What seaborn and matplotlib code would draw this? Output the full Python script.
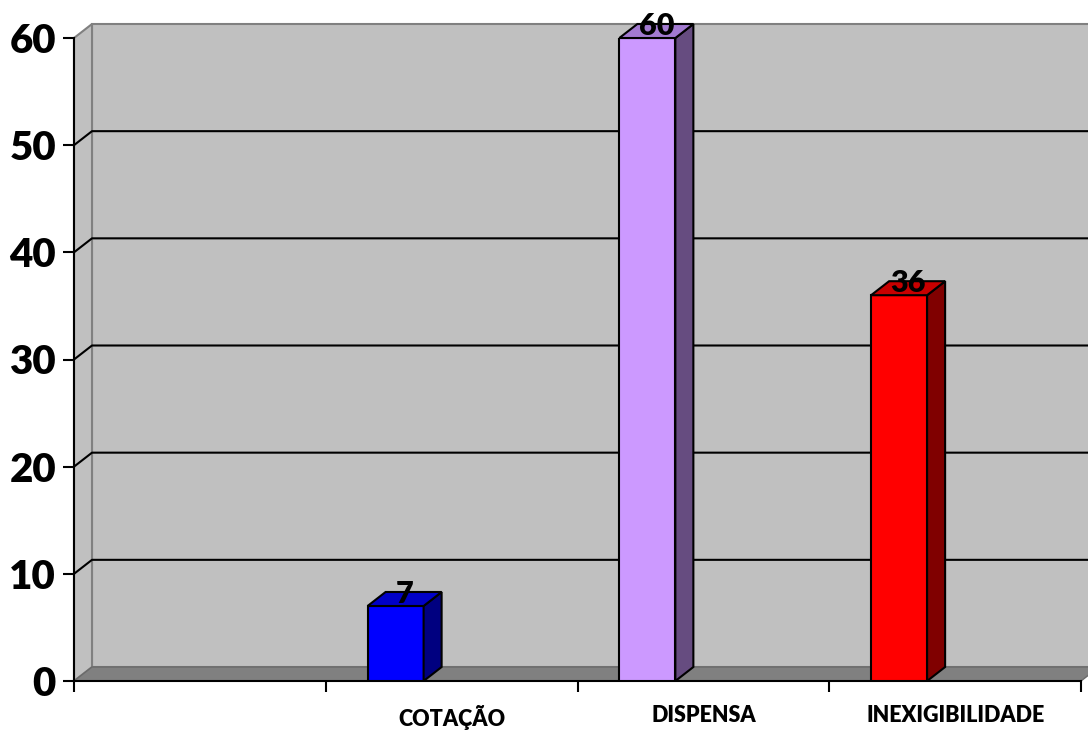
import matplotlib
matplotlib.use("Agg")
import matplotlib.pyplot as plt
import seaborn as sns
import pandas as pd
from matplotlib.patches import Polygon
from matplotlib.lines import Line2D
from matplotlib.transforms import IdentityTransform

# ---- data ----
categories = ["", "COTAÇÃO", "DISPENSA", "INEXIGIBILIDADE"]
bar_categories = ["COTAÇÃO", "DISPENSA", "INEXIGIBILIDADE"]
values = [7, 60, 36]
y_ticks = [0, 10, 20, 30, 40, 50, 60]

# ---- styles ----
front_colors = ["#0000FF", "#CC99FF", "#FF0000"]
side_colors = ["#000080", "#664C80", "#800000"]
top_colors = ["#0000C8", "#A27AD0", "#C80000"]
WALL = "#C0C0C0"
EDGE = "#808080"
DX, DY = 18, 14  # 3D depth in pixels
BAR_W = 0.2225
SHIFT = 0.2225

sns.set_style("white")
plt.rcParams["font.family"] = ["Lato", "DejaVu Sans"]
plt.rcParams["text.color"] = "black"
plt.rcParams["xtick.color"] = "black"
plt.rcParams["ytick.color"] = "black"
plt.rcParams["xtick.labelcolor"] = "black"
plt.rcParams["ytick.labelcolor"] = "black"

fig = plt.figure(figsize=(10.88, 7.31), dpi=100)
ax = fig.add_axes([74 / 1088, 50 / 731, 1007 / 1088, 643 / 731])
ax.set_facecolor("none")

df = pd.DataFrame({"cat": bar_categories, "val": values})
sns.barplot(data=df, x="cat", y="val", order=categories, hue="cat",
            hue_order=bar_categories, palette=front_colors, dodge=False,
            saturation=1, width=BAR_W, edgecolor="black", linewidth=1.5,
            legend=False, ax=ax, zorder=3)

ax.set_xlim(-0.5 + SHIFT, len(categories) - 0.5 + SHIFT)
ax.set_ylim(y_ticks[0], y_ticks[-1])
ax.autoscale(False)
ax.set_xlabel("")
ax.set_ylabel("")

ident = IdentityTransform()
T = ax.transAxes.transform
yx = ax.get_yaxis_transform()  # x axes, y data

# back wall
(bx0, by0), (bx1, by1) = T((0, 0)), T((1, 1))
ax.add_patch(Polygon([(bx0 + DX, by0 + DY), (bx1 + DX, by0 + DY),
                      (bx1 + DX, by1 + DY), (bx0 + DX, by1 + DY)],
                     closed=True, transform=ident, facecolor=WALL,
                     edgecolor=EDGE, linewidth=1.5, clip_on=False, zorder=0.5))
# left side wall
ax.add_patch(Polygon([(bx0, by0), (bx0, by1), (bx0 + DX, by1 + DY), (bx0 + DX, by0 + DY)],
                     closed=True, transform=ident, facecolor=WALL,
                     edgecolor=EDGE, linewidth=1.5, clip_on=False, zorder=0.6))
# floor
ax.add_patch(Polygon([(bx0, by0), (bx1, by0), (bx1 + DX, by0 + DY), (bx0 + DX, by0 + DY)],
                     closed=True, transform=ident, facecolor=EDGE,
                     edgecolor="#6a6a6a", linewidth=1.0, clip_on=False, zorder=1))
# gridlines on walls
for t in y_ticks[1:-1]:
    (fx, fy) = yx.transform((0, t))
    (rx, _) = yx.transform((1, t))
    ax.add_line(Line2D([fx, fx + DX, rx + DX], [fy, fy + DY, fy + DY],
                       transform=ident, color="black", linewidth=1.5,
                       clip_on=False, zorder=0.8))

# 3D faces on bars
bars = [p for p in ax.patches if hasattr(p, "get_width") and p.get_zorder() == 3]
for p in bars:
    cx = p.get_x() + p.get_width() / 2
    name = categories[int(round(cx))]
    i = bar_categories.index(name)
    (x0, y0) = ax.transData.transform((p.get_x(), 0))
    (x1, y1) = ax.transData.transform((p.get_x() + p.get_width(), p.get_height()))
    ax.add_patch(Polygon([(x1, y0), (x1, y1), (x1 + DX, y1 + DY), (x1 + DX, y0 + DY)],
                         closed=True, transform=ident, facecolor=side_colors[i],
                         edgecolor="black", linewidth=1.5, clip_on=False, zorder=3.1))
    ax.add_patch(Polygon([(x0, y1), (x1, y1), (x1 + DX, y1 + DY), (x0 + DX, y1 + DY)],
                         closed=True, transform=ident, facecolor=top_colors[i],
                         edgecolor="black", linewidth=1.5, clip_on=False, zorder=3.1))
    ax.annotate(str(values[i]), xy=(cx, values[i]), xytext=(DX / 2, 3),
                textcoords="offset pixels", ha="center", va="baseline",
                fontsize=22, fontweight="heavy", color="black", zorder=5,
                annotation_clip=False)

# axes / ticks
for s in ["top", "right"]:
    ax.spines[s].set_visible(False)
for s in ["left", "bottom"]:
    ax.spines[s].set_color("black")
    ax.spines[s].set_linewidth(1.5)
    ax.spines[s].set_zorder(2.5)

ax.set_yticks(y_ticks)
ax.set_yticklabels([str(v) for v in y_ticks], fontsize=29, fontweight="heavy")
ax.tick_params(axis="y", length=8, width=1.5, color="black", pad=5, left=True)

n = len(categories)
ax.set_xticks([i - 0.5 + SHIFT for i in range(n + 1)], labels=[""] * (n + 1))
ax.set_xticks([i + SHIFT for i in range(n)], labels=categories, minor=True)
for l in ax.get_xticklabels(minor=True):
    l.set_fontweight("heavy")
    l.set_fontsize(15.5)
ax.tick_params(axis="x", which="major", length=8, width=1.5, color="black",
               direction="out", bottom=True)
ax.tick_params(axis="x", which="minor", length=0, pad=17)
ax.grid(False)

fig.savefig("out.png", dpi=100)
